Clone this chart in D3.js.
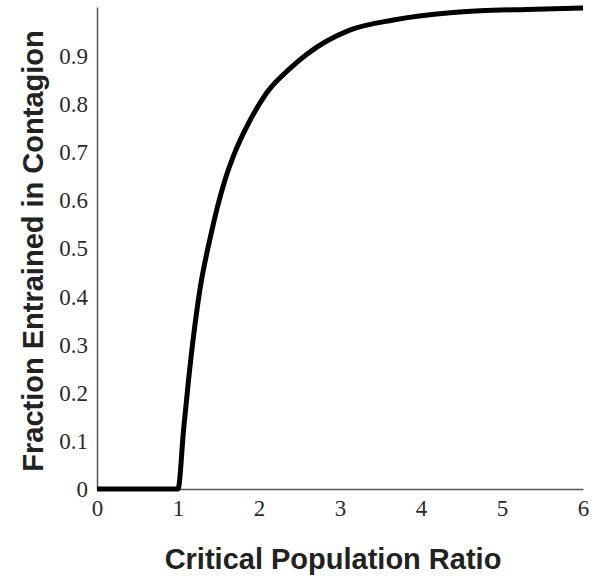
<!DOCTYPE html>
<html lang="en">
<head>
  <meta charset="UTF-8">
  <title>Contagion</title>
  <style>
    body{ margin: 0; background: #fff; }
    svg{ display: block; }
  </style>
</head>
<body>
<svg width="592" height="578"></svg>

<script src="https://cdn.jsdelivr.net/npm/d3@7"></script>
<script>
  // values
  var ratio    = [0, 1, 1.07, 1.13, 1.27, 1.4, 1.58, 1.68, 1.89, 2.1, 2.38, 2.59, 3.12, 3.66, 4.36, 4.73, 5.3, 6];
  var fraction = [0, 0, 0.125, 0.226, 0.413, 0.523, 0.641, 0.689, 0.765, 0.823, 0.872, 0.902, 0.952, 0.973, 0.988, 0.992, 0.995, 0.998];
  var xTicks = [0, 1, 2, 3, 4, 5, 6];
  var yTicks = [0, 0.1, 0.2, 0.3, 0.4, 0.5, 0.6, 0.7, 0.8, 0.9];

  var marge = {top: 7, bottom: 89, left: 97, right: 9};
  var svg = d3.select('svg'), width = +svg.attr('width'), height = +svg.attr('height');
  var w = width - marge.left - marge.right, h = height - marge.top - marge.bottom;
  var g = svg.append('g').attr('transform', `translate(${marge.left}, ${marge.top})`);

  var x = d3.scaleLinear().domain([0, 6]).range([0, w]);
  var y = d3.scaleLinear().domain([0, 1]).range([h, 0]);

  // axes: plain lines, no tick marks
  var xAxis = g.append('g').attr('transform', `translate(0, ${h})`)
    .call(d3.axisBottom(x).tickValues(xTicks).tickSize(0).tickPadding(11).tickFormat(d3.format('d')));
  var yAxis = g.append('g')
    .call(d3.axisLeft(y).tickValues(yTicks).tickSize(0).tickPadding(9)
      .tickFormat(function (d) { return d === 0 ? '0' : d3.format('.1f')(d); }));

  [xAxis, yAxis].forEach(function (a) {
    a.attr('font-family', '"Liberation Serif", "Times New Roman", serif').attr('font-size', 23);
    a.select('.domain').attr('stroke', '#555').attr('stroke-width', 1.5);
    a.selectAll('text').attr('fill', '#2a2a2a');
  });
  yAxis.selectAll('text').attr('dy', '0.34em');

  // curve
  var line = d3.line()
    .x(function (d, i) { return x(ratio[i]); })
    .y(function (d) { return y(d); })
    .curve(d3.curveMonotoneX);
  g.append('path').datum(fraction)
    .attr('d', line)
    .attr('fill', 'none')
    .attr('stroke', '#000')
    .attr('stroke-width', 5)
    .attr('stroke-linejoin', 'round');

  // titles
  var titleFont = '"Liberation Sans", Arial, sans-serif';
  svg.append('text')
    .attr('x', 333).attr('y', 569)
    .attr('text-anchor', 'middle')
    .style('font-family', titleFont).style('font-weight', 'bold').style('font-size', '29px')
    .attr('fill', '#222')
    .text('Critical Population Ratio');
  svg.append('text')
    .attr('transform', 'translate(43, 251) rotate(-90)')
    .attr('text-anchor', 'middle')
    .style('font-family', titleFont).style('font-weight', 'bold').style('font-size', '29px')
    .attr('fill', '#222')
    .text('Fraction Entrained in Contagion');
</script>
</body>
</html>
